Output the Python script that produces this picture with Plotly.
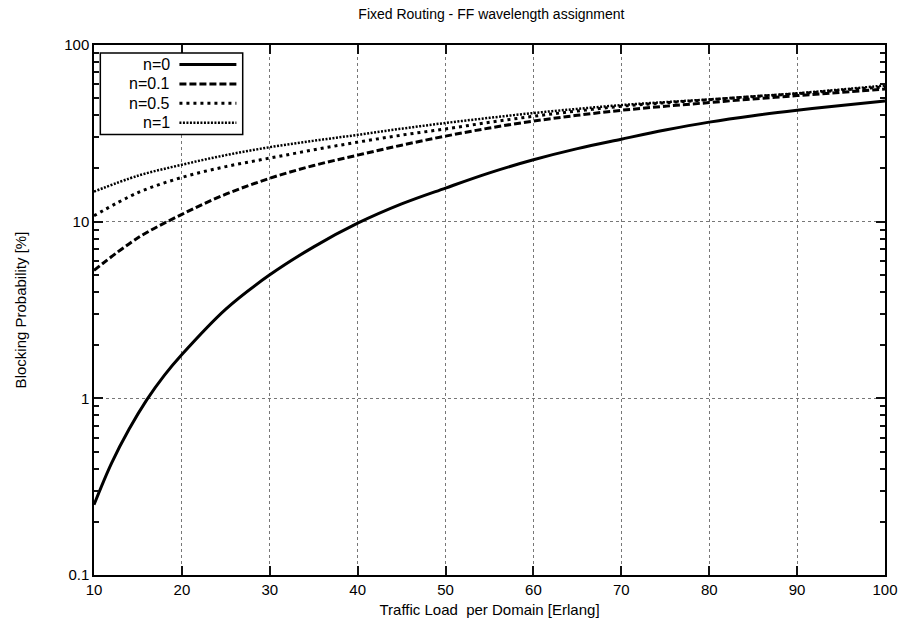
import plotly.graph_objects as go

# Traffic load per domain [Erlang]
load_n0 = [10, 12, 14, 16, 18, 20, 25, 30, 35, 40, 45, 50, 55, 60, 65, 70, 75, 80, 85, 90, 95, 100]
block_n0 = [0.25, 0.43, 0.67, 0.98, 1.35, 1.77, 3.2, 5.0, 7.2, 9.8, 12.6, 15.5, 18.9, 22.4, 25.9, 29.3, 33.0, 36.6, 39.8, 42.7, 45.5, 48.2]

load = [10, 15, 20, 25, 30, 35, 40, 45, 50, 55, 60, 65, 70, 75, 80, 85, 90, 95, 100]
block_n01 = [5.3, 8.1, 11.0, 14.3, 17.6, 20.8, 23.8, 27.1, 30.5, 33.9, 37.1, 40.0, 42.7, 45.0, 47.2, 49.5, 51.7, 54.0, 56.3]
block_n05 = [10.8, 14.6, 17.8, 20.5, 22.9, 25.5, 28.2, 30.9, 33.5, 36.5, 39.5, 42.3, 45.0, 47.1, 49.0, 51.0, 53.0, 55.5, 58.0]
block_n1 = [14.8, 18.2, 21.0, 23.8, 26.4, 28.7, 31.0, 33.6, 36.2, 38.7, 41.2, 43.5, 45.7, 47.5, 49.2, 51.2, 53.3, 56.0, 59.0]

series = [
    ("n=0", load_n0, block_n0, "solid", 3),
    ("n=0.1", load, block_n01, "7px,3px", 3),
    ("n=0.5", load, block_n05, "3px,4px", 3),
    ("n=1", load, block_n1, "2px,1.5px", 2.5),
]

y_ticks = [0.1, 1, 10, 100]
y_tick_text = ["0.1", "1", "10", "100"]
x_ticks = [10, 20, 30, 40, 50, 60, 70, 80, 90, 100]
y_minor = [m * d for d in (0.1, 1, 10) for m in range(2, 10)]

font_main = "Liberation Sans, Arial"

fig = go.Figure()
for name, xs, ys, dash, width in series:
    fig.add_trace(go.Scatter(
        x=xs, y=ys, mode="lines", name=name, line_shape="spline",
        line=dict(color="black", width=width, dash=dash),
        showlegend=False,
    ))

# Legend box drawn gnuplot-style: label on the left, line sample on the right
lx0, lx1, ly1 = 0.008, 0.188, 0.985
row_h = 0.0365
fig.add_shape(type="rect", xref="paper", yref="paper",
              x0=lx0, x1=lx1, y0=ly1 - 4 * row_h - 0.008, y1=ly1,
              line=dict(color="black", width=1.5), fillcolor="white", layer="above")
for i, (name, xs, ys, dash, width) in enumerate(series):
    yy = ly1 - 0.022 - i * row_h
    fig.add_annotation(xref="paper", yref="paper", x=0.098, y=yy, text=name,
                       showarrow=False, xanchor="right", yanchor="middle",
                       font=dict(family=font_main, size=16, color="black"))
    fig.add_shape(type="line", xref="paper", yref="paper",
                  x0=0.108, x1=0.18, y0=yy, y1=yy, layer="above",
                  line=dict(color="black", width=width, dash=dash))

tick_font = dict(family=font_main, size=15, color="black")

fig.update_xaxes(
    range=[10, 100], tickmode="array", tickvals=x_ticks,
    showline=True, linecolor="black", linewidth=1.5, mirror="allticks",
    ticks="inside", ticklen=9, tickwidth=2, tickcolor="#111111",
    showgrid=True, gridcolor="#777777", griddash="dot", gridwidth=1,
    zeroline=False, tickfont=tick_font,
    title=dict(text="Traffic Load  per Domain [Erlang]", standoff=8,
               font=dict(family=font_main, size=15, color="black")),
)
fig.update_yaxes(
    type="log", range=[-1, 2], tickmode="array", tickvals=y_ticks, ticktext=y_tick_text,
    showline=True, linecolor="black", linewidth=1.5, mirror="allticks",
    ticks="inside", ticklen=9, tickwidth=2, tickcolor="#111111",
    showgrid=True, gridcolor="#777777", griddash="dot", gridwidth=1,
    minor=dict(tickmode="array", tickvals=y_minor, ticks="inside", ticklen=5,
               tickwidth=1.5, tickcolor="#111111", showgrid=False),
    zeroline=False, tickfont=tick_font,
    title=dict(text="Blocking Probability [%]", standoff=34,
               font=dict(family=font_main, size=15, color="black")),
)

fig.update_layout(
    width=910, height=630,
    margin=dict(l=94, r=20, t=45, b=55),
    paper_bgcolor="white", plot_bgcolor="white",
    title=dict(text="Fixed Routing - FF wavelength assignment", x=0.54, xanchor="center",
               y=0.985, yanchor="top",
               font=dict(family=font_main, size=14, color="black")),
)

fig.write_html("out.html")
